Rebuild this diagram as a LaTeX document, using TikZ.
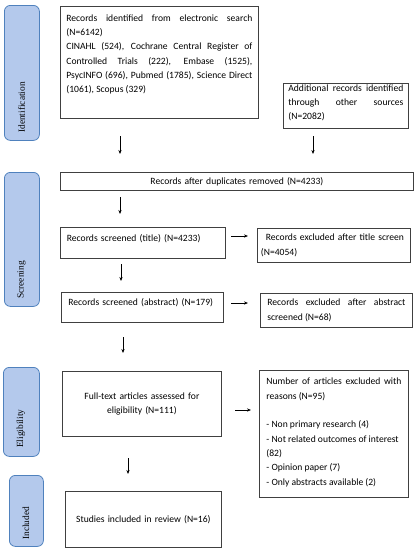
\documentclass[tikz,border=0pt]{standalone}
\usepackage{fontspec}
\setmainfont{Carlito}
\newfontfamily\sidefont{Liberation Serif}
\usetikzlibrary{arrows.meta}
\newcommand{\padbelow}[1]{\par\kern#1pt\relax}
\begin{document}
\begin{tikzpicture}[x=1pt,y=-1pt,
  box/.style={draw=black!75, line width=0.8pt, anchor=north west, inner xsep=0pt, inner ysep=0pt,
    font=\fontsize{9.6}{14.3}\selectfont},
  side/.style={draw={rgb,255:red,79;green,129;blue,189}, line width=0.8pt,
    fill={rgb,255:red,180;green,201;blue,236}, rounded corners=6pt, anchor=north west, inner sep=0pt},
  sidetext/.style={rotate=90, anchor=west, inner sep=0pt, font=\sidefont\fontsize{9.4}{11}\selectfont},
  arr/.style={-{Stealth[length=4pt,width=3.2pt]}, line width=0.7pt, black}
]
\useasboundingbox (0,0) rectangle (416,550);

% side labels
\node[side, minimum width=35pt, minimum height=135pt] (sid) at (4,5) {};
\node[sidetext] (sidt) at (21.5,133) {Identification};
\node[side, minimum width=35pt, minimum height=134pt] (sscr) at (4,172) {};
\node[sidetext] (sscrt) at (21.5,299) {Screening};
\node[side, minimum width=36pt, minimum height=89pt] (selg) at (3,367) {};
\node[sidetext] (selgt) at (21,448) {Eligibility};
\node[side, minimum width=34pt, minimum height=71pt] (sinc) at (9,475) {};
\node[sidetext] (sinct) at (26,540) {Included};

% boxes
\node[box, minimum width=198pt, minimum height=112pt, text width=186pt, align=justify] (src) at (60,6)
  {Records identified from electronic search\linebreak
   (N=6142)\par
   CINAHL (524), Cochrane Central Register of\linebreak
   Controlled Trials (222), Embase (1525),\linebreak
   PsycINFO (696), Pubmed (1785), Science Direct\linebreak
   (1061), Scopus (329)\padbelow{16}};

\node[box, minimum width=125pt, minimum height=45pt, text width=115pt, align=justify] (add) at (283,83)
  {Additional records identified\linebreak
   through other sources\linebreak
   (N=2082)\padbelow{6}};

\node[box, minimum width=353pt, minimum height=18pt, text width=340pt, align=center] (dup) at (60,172)
  {Records after duplicates removed (N=4233)};

\node[box, minimum width=165pt, minimum height=31pt, text width=152pt, align=left] (tit) at (60,227)
  {Records screened (title) (N=4233)\padbelow{8}};

\node[box, minimum width=153pt, minimum height=34pt, text width=146pt, align=left] (extit) at (257,228)
  {\hspace*{5pt}Records excluded after title screen\\(N=4054)};

\node[box, minimum width=162pt, minimum height=30pt, text width=148pt, align=left] (abs) at (61,292)
  {Records screened (abstract) (N=179)\padbelow{9}};

\node[box, minimum width=152pt, minimum height=34pt, text width=138pt, align=justify] (exabs) at (260,293)
  {Records excluded after abstract\linebreak
   screened (N=68)};

\node[box, minimum width=159pt, minimum height=65pt, text width=145pt, align=center] (full) at (62,371)
  {Full-text articles assessed for\\eligibility (N=111)};

\node[box, minimum width=149pt, minimum height=127pt, text width=135pt, align=justify] (exfull) at (259,370)
  {Number of articles excluded with\linebreak
   reasons (N=95)\par
   \mbox{}\par
   - Non primary research (4)\par
   - Not related outcomes of interest\par
   (82)\par
   - Opinion paper (7)\par
   - Only abstracts available (2)\padbelow{3}};

\node[box, minimum width=156pt, minimum height=56pt, text width=142pt, align=center] (inc) at (65,491)
  {Studies included in review (N=16)};

% arrow end points
\coordinate (a1s) at (120,136); \coordinate (a1e) at (120,154);
\coordinate (a2s) at (313,136); \coordinate (a2e) at (313,154);
\coordinate (a3s) at (120,197); \coordinate (a3e) at (120,214);
\coordinate (a4s) at (231,236); \coordinate (a4e) at (248,236);
\coordinate (a5s) at (121,264); \coordinate (a5e) at (121,281);
\coordinate (a6s) at (231,303); \coordinate (a6e) at (248,303);
\coordinate (a7s) at (123,337); \coordinate (a7e) at (123,353);
\coordinate (a8s) at (235,410); \coordinate (a8e) at (251,410);
\coordinate (a9s) at (128,458); \coordinate (a9e) at (128,474);

\draw[arr] (a1s) -- (a1e);
\draw[arr] (a2s) -- (a2e);
\draw[arr] (a3s) -- (a3e);
\draw[arr] (a4s) -- (a4e);
\draw[arr] (a5s) -- (a5e);
\draw[arr] (a6s) -- (a6e);
\draw[arr] (a7s) -- (a7e);
\draw[arr] (a8s) -- (a8e);
\draw[arr] (a9s) -- (a9e);
\end{tikzpicture}
\end{document}
